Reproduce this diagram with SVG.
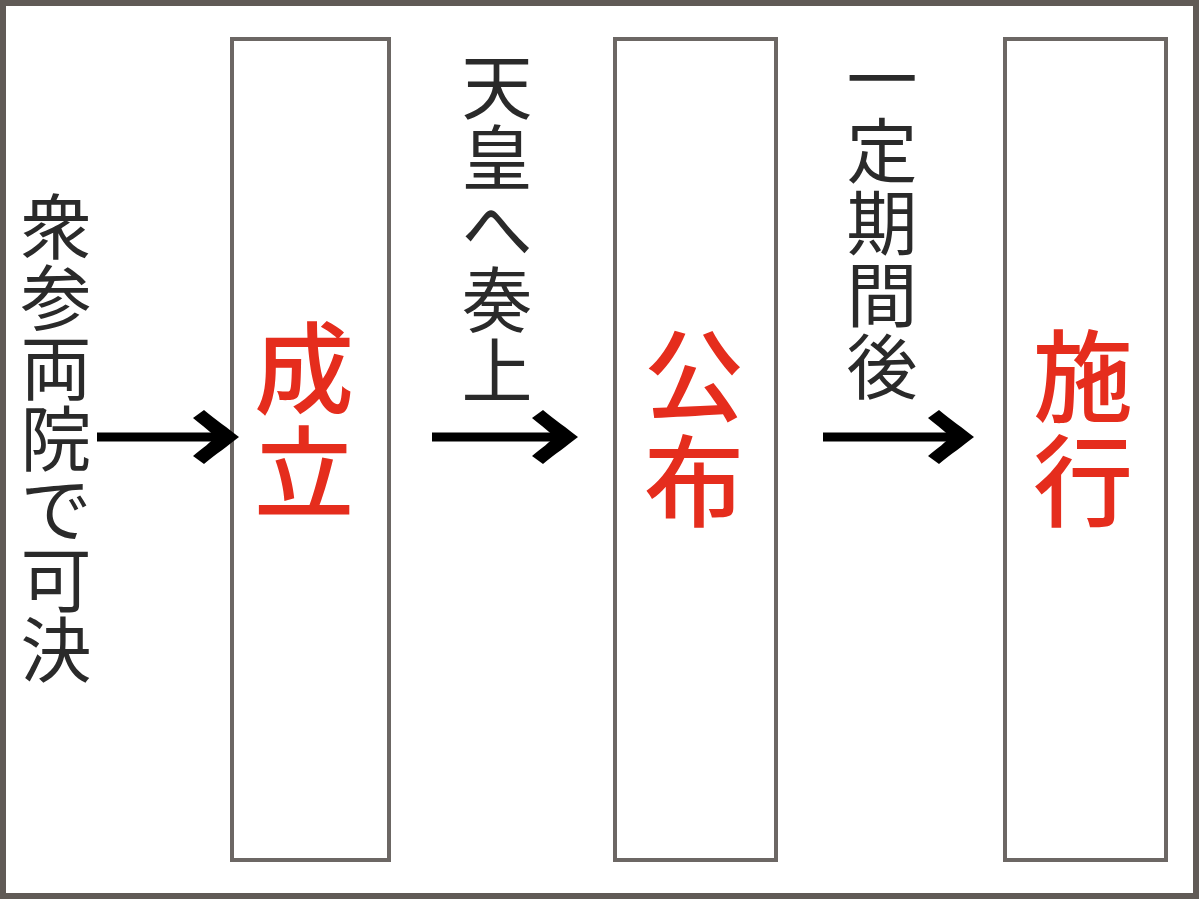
<svg xmlns="http://www.w3.org/2000/svg" width="1200" height="900" viewBox="0 0 1200 900">
<defs>
<style>
.frame{fill:#ffffff;stroke:#605a56;stroke-width:6}
.box{fill:#ffffff;stroke:#6c6764;stroke-width:4}
.lbl{font-family:"Noto Sans CJK JP","Noto Sans CJK SC",sans-serif;font-size:71px;fill:#2a2a2a;text-anchor:middle}
.key{font-family:"Noto Sans CJK JP","Noto Sans CJK SC",sans-serif;font-size:100px;fill:#e52d1d;text-anchor:middle;font-weight:500}
.shaft{stroke:#000000;stroke-width:9;fill:none}
.head{fill:#000000}
</style>
</defs>
<rect class="frame" x="3" y="3" width="1193" height="893"/>
<g id="node-seiritsu">
<rect class="box" x="232" y="39" width="157" height="821"/>
<text class="key"><tspan x="304" y="406">成</tspan><tspan x="304" y="510">立</tspan></text>
</g>
<g id="node-kofu">
<rect class="box" x="615" y="39" width="161" height="821"/>
<text class="key"><tspan x="694" y="413">公</tspan><tspan x="694" y="519">布</tspan></text>
</g>
<g id="node-shiko">
<rect class="box" x="1005" y="39" width="161" height="821"/>
<text class="key"><tspan x="1083" y="414">施</tspan><tspan x="1083" y="519">行</tspan></text>
</g>
<g id="connectors">
<line class="shaft" x1="97" y1="437" x2="222" y2="437"/>
<path class="head" d="M239,437 C229,429 215,419 204,410 L193,418 C203,426 211,432 215,437 C211,442 203,448 193,456 L204,464 C215,455 229,445 239,437 Z"/>
<line class="shaft" x1="432" y1="437" x2="561" y2="437"/>
<path class="head" d="M578,437 C568,429 554,419 543,410 L532,418 C542,426 550,432 554,437 C550,442 542,448 532,456 L543,464 C554,455 568,445 578,437 Z"/>
<line class="shaft" x1="823" y1="437" x2="957" y2="437"/>
<path class="head" d="M974,437 C964,429 950,419 939,410 L928,418 C938,426 946,432 950,437 C946,442 938,448 928,456 L939,464 C950,455 964,445 974,437 Z"/>
</g>
<g id="label-kaketsu">
<text class="lbl"><tspan x="56" y="253">衆</tspan><tspan x="56" y="323.5">参</tspan><tspan x="56" y="394">両</tspan><tspan x="56" y="464.5">院</tspan><tspan x="56" y="535">で</tspan><tspan x="56" y="605.5">可</tspan><tspan x="56" y="676">決</tspan></text>
</g>
<g id="label-sojo">
<text class="lbl"><tspan x="497" y="113">天</tspan><tspan x="497" y="184">皇</tspan><tspan x="497" y="255">へ</tspan><tspan x="497" y="326">奏</tspan><tspan x="497" y="397">上</tspan></text>
</g>
<g id="label-kikan">
<text class="lbl"><tspan x="882" y="105">一</tspan><tspan x="882" y="177">定</tspan><tspan x="882" y="249">期</tspan><tspan x="882" y="321">間</tspan><tspan x="882" y="393">後</tspan></text>
</g>
</svg>
